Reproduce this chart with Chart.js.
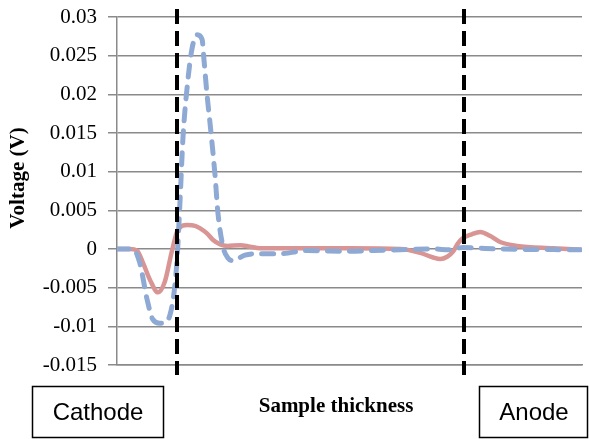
<!DOCTYPE html>
<html>
<head>
<meta charset="utf-8">
<script src="https://cdn.jsdelivr.net/npm/chart.js@4"></script>
<style>
  body { margin: 0; background: #fff; }
  #wrap { width: 589px; height: 439px; }
</style>
</head>
<body>
<div id="wrap"><canvas id="voltChart" width="589" height="439"></canvas></div>
<script>
// position across the sample (0 = cathode side, 100 = anode side)
const redPos = [0, 2.8, 4.3, 5.6, 7.1, 8.8, 10.3, 11.8, 13.1, 15.1, 16.8, 17.8, 19.4, 20.6, 22.2, 23.7, 26.5, 28.6, 30.8, 39.4, 50.1, 60.9, 65.2, 68.0, 69.5, 71.0, 72.3, 73.3, 74.4, 76.3, 78.1, 80.2, 82.4, 86.0, 93.8, 100];
const redVolt = [0, 0, -0.0002, -0.0018, -0.004, -0.0056, -0.0042, -0.0003, 0.0025, 0.0031, 0.003, 0.0027, 0.002, 0.0012, 0.0006, 0.0004, 0.0005, 0.0003, 0.0001, 0.0001, 0.0001, 0, -0.0005, -0.0011, -0.0013, -0.001, -0.0003, 0.0007, 0.0014, 0.0019, 0.0022, 0.0017, 0.0009, 0.0004, 0.0001, -0.0001];

const bluePos = [0, 3.4, 4.9, 6.5, 7.7, 9.2, 10.5, 11.4, 12.3, 12.9, 13.5, 14.2, 15.1, 16.1, 17.2, 18.3, 18.7, 19.4, 20.0, 21.1, 21.7, 22.8, 23.9, 24.9, 27.5, 30.1, 35.1, 40.9, 50.1, 55.1, 60.9, 68.0, 71.6, 74.4, 78.1, 82.4, 99.6];
const blueVolt = [0, 0, -0.0018, -0.0066, -0.0091, -0.0096, -0.0095, -0.0085, -0.0055, -0.0015, 0.0055, 0.0145, 0.021, 0.0258, 0.0277, 0.0271, 0.0245, 0.0197, 0.0163, 0.0094, 0.0047, 0.0003, -0.0012, -0.0015, -0.0008, -0.0006, -0.0006, -0.0002, -0.0003, -0.0002, -0.0001, 0, -0.0001, 0.0002, 0.0001, 0, -0.0001];

// electrode interfaces (dashed black lines)
const interfaces = [12.84, 74.6];

const yMin = -0.015;
const yMax = 0.03;
const yStep = 0.005;

const toPoints = (xs, ys) => xs.map((x, i) => ({ x: x, y: ys[i] }));

const overlayPlugin = {
    id: 'overlay',
    afterDatasetsDraw(chart) {
        const ctx = chart.ctx;
        const xScale = chart.scales.x;
        const area = chart.chartArea;

        // interface lines
        ctx.save();
        ctx.strokeStyle = '#000';
        ctx.lineWidth = 4;
        ctx.setLineDash([15, 7]);
        interfaces.forEach(v => {
            const px = Math.round(xScale.getPixelForValue(v));
            ctx.beginPath();
            ctx.moveTo(px, area.top - 8);
            ctx.lineTo(px, area.bottom + 10);
            ctx.stroke();
        });
        ctx.restore();

        // axis titles
        ctx.save();
        ctx.fillStyle = '#000';
        ctx.font = 'bold 21px "Liberation Serif"';
        ctx.textAlign = 'center';
        ctx.textBaseline = 'middle';
        ctx.fillText('Sample thickness', 336, 407);
        ctx.translate(19, 178);
        ctx.rotate(-Math.PI / 2);
        ctx.fillText('Voltage (V)', 0, 0);
        ctx.restore();

        // electrode labels
        ctx.save();
        ctx.strokeStyle = '#000';
        ctx.lineWidth = 1.5;
        ctx.strokeRect(32.5, 386.5, 131, 51);
        ctx.strokeRect(479.5, 386.5, 108, 51);
        ctx.fillStyle = '#000';
        ctx.font = '24px "Liberation Sans"';
        ctx.textAlign = 'center';
        ctx.textBaseline = 'middle';
        ctx.fillText('Cathode', 98, 413);
        ctx.fillText('Anode', 534, 413);
        ctx.restore();
    }
};

const ctx = document.getElementById('voltChart').getContext('2d');
const voltChart = new Chart(ctx, {
    type: 'line',
    data: {
        datasets: [
            {
                label: 'Series 2',
                data: toPoints(bluePos, blueVolt),
                borderColor: 'rgb(142, 170, 212)',
                backgroundColor: 'rgb(142, 170, 212)',
                borderWidth: 5,
                borderDash: [12, 10],
                borderCapStyle: 'round',
                cubicInterpolationMode: 'monotone',
                pointRadius: 0,
                fill: false,
                order: 1
            },
            {
                label: 'Series 1',
                data: toPoints(redPos, redVolt),
                borderColor: 'rgb(217, 149, 148)',
                backgroundColor: 'rgb(217, 149, 148)',
                borderWidth: 4.5,
                cubicInterpolationMode: 'monotone',
                pointRadius: 0,
                fill: false,
                order: 2
            }
        ]
    },
    options: {
        responsive: false,
        animation: false,
        layout: {
            padding: { top: 17, right: 7, bottom: 0, left: 0 }
        },
        plugins: {
            legend: { display: false },
            tooltip: { enabled: false }
        },
        scales: {
            x: {
                type: 'linear',
                min: 0,
                max: 100,
                ticks: { display: false },
                grid: { display: false },
                border: { display: true, color: '#8a8a8a', width: 1.5 },
                afterFit(scale) { scale.height = 74; }
            },
            y: {
                min: yMin,
                max: yMax,
                ticks: {
                    stepSize: yStep,
                    padding: 11,
                    color: '#000',
                    font: { family: '"Liberation Serif"', size: 21, lineHeight: 0.5 },
                    callback: v => String(parseFloat(v.toFixed(3)))
                },
                grid: {
                    color: '#8a8a8a',
                    lineWidth: 1.5,
                    tickLength: 9,
                    drawTicks: true
                },
                border: { display: true, color: '#8a8a8a', width: 1.5 },
                afterFit(scale) { scale.width = 117; }
            }
        }
    },
    plugins: [overlayPlugin]
});
</script>
</body>
</html>
